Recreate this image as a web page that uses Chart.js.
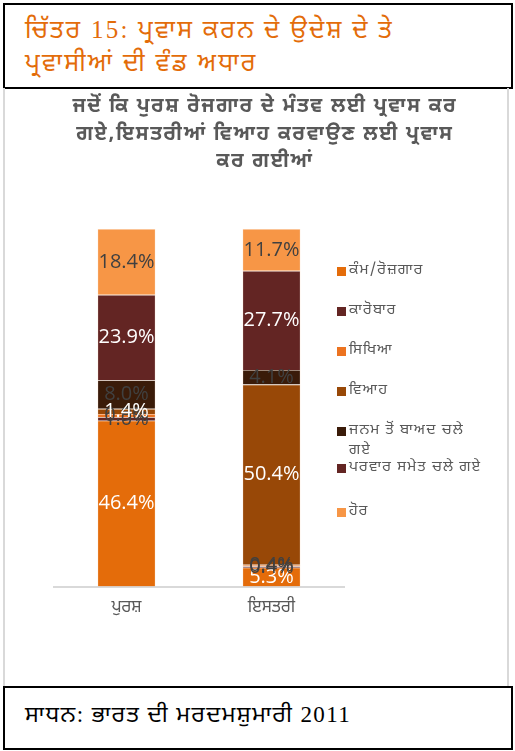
<!DOCTYPE html>
<html>
<head>
<meta charset="utf-8">
<script src="https://cdn.jsdelivr.net/npm/chart.js@4.4.1/dist/chart.umd.min.js"></script>
<style>
  body { margin: 0; background: #fff; }
  #page { position: relative; width: 515px; height: 751px; overflow: hidden; }
  #headBox {
    position: absolute; left: 3px; top: 3px; width: 506px; height: 82px;
    border: 2px solid #000; box-sizing: content-box;
  }
  #headText {
    position: absolute; left: 20px; top: 8px; width: 490px;
    font-family: "Liberation Serif", "Noto Sans Gurmukhi", "Noto Serif Gurmukhi", serif;
    font-size: 25px; line-height: 33px; color: #E36C09; letter-spacing: 2.2px;
  }
  #chartFrame {
    position: absolute; left: 3px; top: 88px; width: 506px; height: 598px;
    border-left: 2px solid #D9D9D9; border-right: 2px solid #D9D9D9; box-sizing: border-box;
  }
  #chartTitle {
    position: absolute; left: 25px; top: 94px; width: 480px; text-align: center;
    font-family: "Noto Sans Gurmukhi", "Noto Sans", sans-serif; font-weight: bold;
    font-size: 20px; line-height: 27.5px; color: #595959; letter-spacing: 1.7px;
  }
  #chartWrap { position: absolute; left: 4px; top: 88px; width: 505px; height: 598px; }
  #legend {
    position: absolute; left: 337px; top: 261px; width: 170px;
    font-family: "Noto Sans Gurmukhi", "Noto Sans", sans-serif; font-size: 15px; color: #595959;
    letter-spacing: 1.2px;
  }
  .lg { position: absolute; left: 0; width: 150px; line-height: 20px; }
  .lg i { position: absolute; left: 0; top: 6px; width: 9px; height: 9px; }
  .lg span { display: block; margin-left: 12px; width: 134px; }
  #srcBox {
    position: absolute; left: 3px; top: 686px; width: 506px; height: 60px;
    border: 2px solid #000; box-sizing: content-box;
  }
  #srcText {
    position: absolute; left: 20px; top: 13px;
    font-family: "Liberation Serif", "Noto Sans Gurmukhi", "Noto Serif Gurmukhi", serif;
    font-size: 23px; color: #000; letter-spacing: 1.4px;
  }
</style>
</head>
<body>
<div id="page">
  <div id="headBox"><div id="headText">ਚਿੱਤਰ 15: ਪ੍ਰਵਾਸ ਕਰਨ ਦੇ ਉਦੇਸ਼ ਦੇ ਤੇ<br>ਪ੍ਰਵਾਸੀਆਂ ਦੀ ਵੰਡ ਅਧਾਰ</div></div>
  <div id="chartFrame"></div>
  <div id="chartWrap"><canvas id="chart"></canvas></div>
  <div id="chartTitle"></div>
  <div id="legend"></div>
  <div id="srcBox"><div id="srcText">ਸਾਧਨ: ਭਾਰਤ ਦੀ ਮਰਦਮਸ਼ੁਮਾਰੀ 2011</div></div>
</div>
<script>
// categories and series (percent of migrants)
const categories = ['ਪੁਰਸ਼', 'ਇਸਤਰੀ'];
const seriesNames = ['ਕੰਮ/ਰੋਜ਼ਗਾਰ', 'ਕਾਰੋਬਾਰ', 'ਸਿਖਿਆ', 'ਵਿਆਹ', 'ਜਨਮ ਤੋਂ ਬਾਅਦ ਚਲੇ ਗਏ', 'ਪਰਵਾਰ ਸਮੇਤ ਚਲੇ ਗਏ', 'ਹੋਰ'];
const work      = [46.4, 5.3];
const business  = [1.0, 0.4];
const education = [0.9, 0.4];
const marriage  = [1.4, 50.4];
const afterBirth = [8.0, 4.1];
const withFamily = [23.9, 27.7];
const other     = [18.4, 11.7];
const seriesValues = [work, business, education, marriage, afterBirth, withFamily, other];
const titleLines = ['ਜਦੋਂ ਕਿ ਪੁਰਸ਼ ਰੋਜਗਾਰ ਦੇ ਮੰਤਵ ਲਈ ਪ੍ਰਵਾਸ ਕਰ', 'ਗਏ,ਇਸਤਰੀਆਂ ਵਿਆਹ ਕਰਵਾਉਣ ਲਈ ਪ੍ਰਵਾਸ', 'ਕਰ ਗਈਆਂ'];

const colors = ['#E46C0A', '#632523', '#EC7320', '#984807', '#3A1B09', '#632523', '#F79646'];
const labelColors = ['#FFFFFF', '#404040', '#404040', '#FFFFFF', '#404040', '#FFFFFF', '#404040'];
const legendTops = [0, 40, 80, 120, 160, 197, 241];

const gur = '"Noto Sans Gurmukhi", "Noto Sans", sans-serif';

document.getElementById('chartTitle').innerHTML = titleLines.join('<br>');

// html legend
const legendEl = document.getElementById('legend');
seriesNames.forEach((name, i) => {
    const row = document.createElement('div');
    row.className = 'lg';
    row.style.top = legendTops[i] + 'px';
    row.innerHTML = '<i style="background:' + colors[i] + '"></i><span>' + name + '</span>';
    legendEl.appendChild(row);
});

// value labels in the middle of each segment
const segmentLabels = {
    id: 'segmentLabels',
    afterDatasetsDraw(chart) {
        const ctx = chart.ctx;
        ctx.save();
        ctx.font = '20px "Open Sans", "Noto Sans", sans-serif';
        ctx.textAlign = 'center';
        ctx.textBaseline = 'middle';
        chart.data.datasets.forEach((ds, i) => {
            const meta = chart.getDatasetMeta(i);
            meta.data.forEach((bar, j) => {
                const mid = (bar.y + bar.base) / 2;
                ctx.fillStyle = labelColors[i];
                ctx.fillText(ds.data[j].toFixed(1) + '%', bar.x, mid);
            });
        });
        ctx.restore();
    }
};

new Chart(document.getElementById('chart'), {
    type: 'bar',
    data: {
        labels: categories,
        datasets: seriesNames.map((name, i) => ({
            label: name,
            data: seriesValues[i],
            backgroundColor: colors[i],
            borderColor: 'rgba(252, 213, 181, 0.6)',
            borderWidth: 0.6,
            barPercentage: 0.4,
            categoryPercentage: 1.0
        }))
    },
    options: {
        responsive: true,
        maintainAspectRatio: false,
        animation: false,
        layout: { padding: { left: 50, right: 165, top: 141, bottom: 55 } },
        plugins: {
            legend: { display: false },
            tooltip: { enabled: false },
            title: { display: false }
        },
        scales: {
            x: {
                stacked: true,
                grid: { display: false, drawTicks: false },
                border: { color: '#D9D9D9', width: 2 },
                ticks: { color: '#595959', font: { family: gur, size: 17 }, padding: 12 }
            },
            y: {
                stacked: true,
                display: false,
                min: 0,
                max: 100
            }
        }
    },
    plugins: [segmentLabels]
});
</script>
</body>
</html>
